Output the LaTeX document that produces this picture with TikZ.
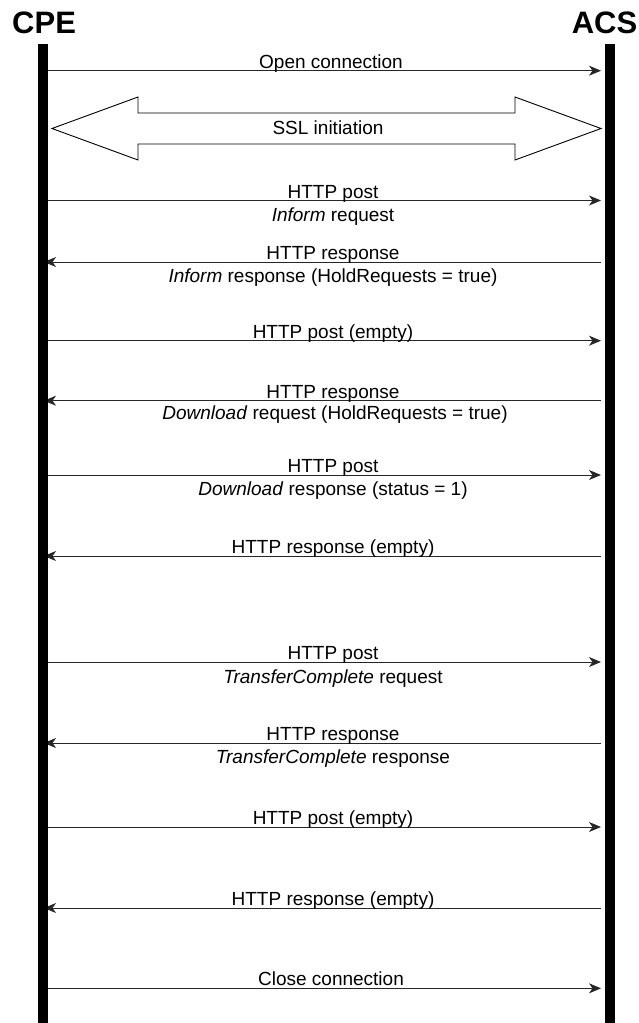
\documentclass[tikz,border=0pt]{standalone}
\usepackage{fontspec}
\setmainfont{Liberation Sans}
\usetikzlibrary{arrows.meta}

\begin{document}
\begin{tikzpicture}[x=1pt,y=-1pt,
  lifeline/.style={fill=black,draw=none},
  toacs/.style={draw=black!85,line width=1pt,-{Stealth[length=12pt,width=10pt,inset=3.5pt]}},
  tocpe/.style={draw=black!85,line width=1pt,-{Stealth[length=12pt,width=10pt,inset=3.5pt]}},
  lbl/.style={font=\fontsize{19}{21}\selectfont,anchor=base,inner sep=0pt},
  party/.style={font=\fontsize{31}{34}\selectfont\bfseries,inner sep=0pt},
  bigarrow/.style={draw=black,line width=0.9pt,fill=white,line join=miter},
]
\useasboundingbox (0,0) rectangle (638,1023);

% party names
\node[party,anchor=base west] (cpe) at (12,33) {CPE};
\node[party,anchor=base east] (acs) at (637.5,33) {ACS};

% message end points on the two lifelines
\coordinate (c1)  at (48,70.7);   \coordinate (a1)  at (601,70.7);
\coordinate (c3)  at (48,200.5);  \coordinate (a3)  at (601,200.5);
\coordinate (c4)  at (44,262);    \coordinate (a4)  at (601,262);
\coordinate (c5)  at (48,340.7);  \coordinate (a5)  at (601,340.7);
\coordinate (c6)  at (44,400.7);  \coordinate (a6)  at (601,400.7);
\coordinate (c7)  at (48,475);    \coordinate (a7)  at (601,475);
\coordinate (c8)  at (44,556);    \coordinate (a8)  at (601,556);
\coordinate (c9)  at (48,662);    \coordinate (a9)  at (601,662);
\coordinate (c10) at (44,743);    \coordinate (a10) at (601,743);
\coordinate (c11) at (48,827);    \coordinate (a11) at (601,827);
\coordinate (c12) at (44,908);    \coordinate (a12) at (601,908);
\coordinate (c13) at (48,988.3);  \coordinate (a13) at (601,988.3);

% messages
\draw[toacs] (c1) -- (a1);
\node[lbl] (m1) at (331,68) {Open connection};

% SSL initiation double arrow
\draw[bigarrow] (52,128.5) -- (138,97) -- (138,113) -- (515,113) -- (515,97)
  -- (601,128.5) -- (515,160) -- (515,144) -- (138,144) -- (138,160) -- cycle;
\node[lbl] (m2) at (328,134) {SSL initiation};

\draw[toacs] (c3) -- (a3);
\node[lbl] (m3) at (333,198) {HTTP post};
\node[lbl] (m3b) at (333,221) {\textit{Inform} request};

\draw[tocpe] (a4) -- (c4);
\node[lbl] (m4) at (333,259.5) {HTTP response};
\node[lbl] (m4b) at (333,282) {\textit{Inform} response (HoldRequests = true)};

\draw[toacs] (c5) -- (a5);
\node[lbl] (m5) at (333,338) {HTTP post (empty)};

\draw[tocpe] (a6) -- (c6);
\node[lbl] (m6) at (333,398) {HTTP response};
\node[lbl] (m6b) at (335,419) {\textit{Download} request (HoldRequests = true)};

\draw[toacs] (c7) -- (a7);
\node[lbl] (m7) at (333,472.5) {HTTP post};
\node[lbl] (m7b) at (333,495) {\textit{Download} response (status = 1)};

\draw[tocpe] (a8) -- (c8);
\node[lbl] (m8) at (333,553.5) {HTTP response (empty)};

\draw[toacs] (c9) -- (a9);
\node[lbl] (m9) at (333,659.5) {HTTP post};
\node[lbl] (m9b) at (333,683.5) {\textit{TransferComplete} request};

\draw[tocpe] (a10) -- (c10);
\node[lbl] (m10) at (333,740.5) {HTTP response};
\node[lbl] (m10b) at (333,763) {\textit{TransferComplete} response};

\draw[toacs] (c11) -- (a11);
\node[lbl] (m11) at (333,824.5) {HTTP post (empty)};

\draw[tocpe] (a12) -- (c12);
\node[lbl] (m12) at (333,905.5) {HTTP response (empty)};

\draw[toacs] (c13) -- (a13);
\node[lbl] (m13) at (331,985.5) {Close connection};

% lifelines, drawn last so they cover the arrow tips reaching the CPE
\fill[lifeline] (38,44) rectangle (48,1023);
\fill[lifeline] (605,44) rectangle (615,1023);
\end{tikzpicture}
\end{document}
